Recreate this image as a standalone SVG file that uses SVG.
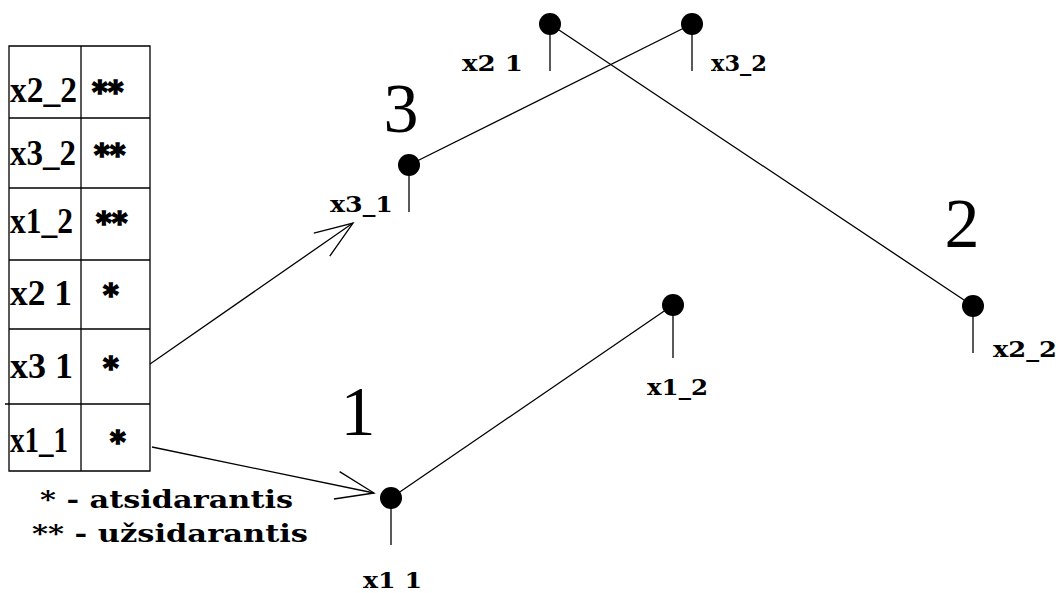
<svg xmlns="http://www.w3.org/2000/svg" width="1062" height="593" viewBox="0 0 1062 593">
<style>
.ln{stroke:#000;stroke-width:1.3;fill:none}
.dot{fill:#000}
.tl{font-family:"Liberation Serif",serif;font-weight:bold;font-size:35px;fill:#000}
.st{font-family:"DejaVu Serif",serif;font-weight:bold;font-size:30px;fill:#000;stroke:#000;stroke-width:1.6}
.nl{font-family:"DejaVu Serif",serif;font-weight:bold;font-size:23px;fill:#000}
.big{font-family:"Liberation Serif",serif;font-size:70px;fill:#000;text-anchor:middle}
.lg{font-family:"DejaVu Serif",serif;font-weight:bold;font-size:25px;fill:#000}
</style>
<defs>
<marker id="arr" markerUnits="userSpaceOnUse" orient="auto" markerWidth="50" markerHeight="40" refX="0" refY="0" viewBox="-45 -20 50 40" overflow="visible">
<path d="M-38,-14 L0,0 L-38,14" fill="none" stroke="#000" stroke-width="1.3"/>
</marker>
</defs>
<rect width="1062" height="593" fill="#fff"/>
<g id="table">
<path class="ln" d="M9,46H150V471H9Z M81,46V471 M9,118H150 M9,188H150 M9,260H150 M9,329H150 M5,404H150"/>
<text class="tl" x="10" y="102" textLength="67" lengthAdjust="spacingAndGlyphs">x2_2</text>
<text class="tl" x="10" y="165" textLength="66" lengthAdjust="spacingAndGlyphs">x3_2</text>
<text class="tl" x="10" y="233" textLength="63" lengthAdjust="spacingAndGlyphs">x1_2</text>
<text class="tl" x="10" y="305" textLength="62" lengthAdjust="spacingAndGlyphs">x2 1</text>
<text class="tl" x="10" y="378" textLength="63" lengthAdjust="spacingAndGlyphs">x3 1</text>
<text class="tl" x="10" y="452" textLength="58" lengthAdjust="spacingAndGlyphs">x1_1</text>
<text class="st" x="92" y="102">**</text>
<text class="st" x="94" y="165">**</text>
<text class="st" x="96" y="233">**</text>
<text class="st" x="103" y="305">*</text>
<text class="st" x="103" y="378">*</text>
<text class="st" x="110" y="452">*</text>
</g>
<g id="legend">
<text class="lg" x="40" y="508" textLength="253" lengthAdjust="spacingAndGlyphs">* - atsidarantis</text>
<text class="lg" x="32" y="542" textLength="276" lengthAdjust="spacingAndGlyphs">** - užsidarantis</text>
</g>
<g id="labels">
<text class="big" x="401" y="132">3</text>
<text class="big" x="962" y="247">2</text>
<text class="big" x="358" y="435">1</text>
</g>
<g id="node-x2_1">
<circle class="dot" cx="550" cy="24" r="11"/>
<path class="ln" d="M550,24V71"/>
<text class="nl" x="462" y="71" textLength="61" lengthAdjust="spacingAndGlyphs">x2 1</text>
</g>
<g id="node-x3_2">
<circle class="dot" cx="692" cy="24" r="11"/>
<path class="ln" d="M692,24V71"/>
<text class="nl" x="711" y="71" textLength="56" lengthAdjust="spacingAndGlyphs">x3_2</text>
</g>
<g id="node-x3_1">
<circle class="dot" cx="409" cy="165" r="11"/>
<path class="ln" d="M409,165V212"/>
<text class="nl" x="330" y="212" textLength="63" lengthAdjust="spacingAndGlyphs">x3_1</text>
</g>
<g id="node-x1_2">
<circle class="dot" cx="673" cy="305" r="11"/>
<path class="ln" d="M673,305V358"/>
<text class="nl" x="647" y="395" textLength="61" lengthAdjust="spacingAndGlyphs">x1_2</text>
</g>
<g id="node-x2_2">
<circle class="dot" cx="973" cy="306" r="11"/>
<path class="ln" d="M973,306V353"/>
<text class="nl" x="993" y="357" textLength="64" lengthAdjust="spacingAndGlyphs">x2_2</text>
</g>
<g id="node-x1_1">
<circle class="dot" cx="391" cy="498" r="11"/>
<path class="ln" d="M391,498V545"/>
<text class="nl" x="363" y="588" textLength="59" lengthAdjust="spacingAndGlyphs">x1 1</text>
</g>
<g id="connectors">
<path class="ln" d="M409,165L692,24"/>
<path class="ln" d="M550,24L973,306"/>
<path class="ln" d="M391,498L673,305"/>
<path class="ln" d="M150,364L353,223" marker-end="url(#arr)"/>
<path class="ln" d="M152,447L374,493" marker-end="url(#arr)"/>
</g>
</svg>
